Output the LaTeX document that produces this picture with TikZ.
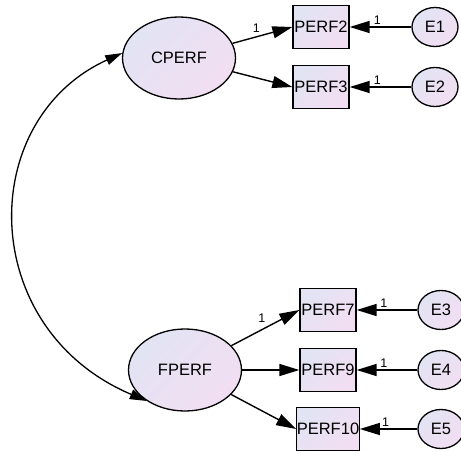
\documentclass[tikz,border=0pt]{standalone}
\usepackage{fontspec}
\setmainfont{Liberation Sans}
\usetikzlibrary{arrows.meta,shapes.geometric}
\definecolor{fillA}{RGB}{226,228,243}
\definecolor{fillB}{RGB}{242,222,242}
\begin{document}
\begin{tikzpicture}[x=1pt,y=-1pt,
  every node/.style={inner sep=0pt},
  tint/.style={top color=fillA, bottom color=fillB, shading angle=45},
  latent/.style={ellipse, draw, line width=1.3pt, tint, minimum width=113pt, minimum height=82pt, font=\fontsize{16.5}{18}\selectfont},
  observed/.style={rectangle, draw, line width=1.3pt, tint, minimum width=56pt, minimum height=43pt, font=\fontsize{16.5}{18}\selectfont},
  errvar/.style={ellipse, draw, line width=1.3pt, tint, minimum width=46pt, minimum height=39pt, font=\fontsize{16.5}{18}\selectfont},
  path/.style={line width=1.4pt, -{Triangle[length=20pt,width=12pt]}},
  wt/.style={font=\fontsize{12.5}{13}\selectfont, inner sep=2pt}]
\useasboundingbox (0,0) rectangle (461,452);
\clip (0,0) rectangle (461,452);

% latent factors
\node[latent] (cperf) at (179,58) {CPERF};
\node[latent] (fperf) at (185,370) {FPERF};

% indicators
\node[observed] (perf2)  at (321,27)  {PERF2};
\node[observed] (perf3)  at (321,87)  {PERF3};
\node[observed] (perf7)  at (328,310) {PERF7};
\node[observed] (perf9)  at (328,370) {PERF9};
\node[observed] (perf10) at (328,429) {PERF10};

% error terms
\node[errvar] (e1) at (435,27)  {E1};
\node[errvar] (e2) at (435,87)  {E2};
\node[errvar] (e3) at (441,310) {E3};
\node[errvar] (e4) at (441,370) {E4};
\node[errvar] (e5) at (441,429) {E5};

% loadings
\draw[path] (cperf) -- node[wt, above, pos=0.4, yshift=2pt] {1} (perf2.west);
\draw[path] (cperf) -- (perf3.west);
\draw[path] (fperf) -- node[wt, above, pos=0.45, yshift=4pt] {1} (perf7.west);
\draw[path] (fperf) -- (perf9.west);
\draw[path] (fperf) -- (perf10.west);

% error paths
\draw[path] (e1) -- node[wt, above, pos=0.55] {1} (perf2.east);
\draw[path] (e2) -- node[wt, above, pos=0.55] {1} (perf3.east);
\draw[path] (e3) -- node[wt, above, pos=0.55] {1} (perf7.east);
\draw[path] (e4) -- node[wt, above, pos=0.55] {1} (perf9.east);
\draw[path] (e5) -- node[wt, above, pos=0.55] {1} (perf10.east);

% covariance between factors
\draw[line width=1.3pt, {Triangle[length=17pt,width=10pt]}-{Triangle[length=17pt,width=10pt]}]
  (cperf.175) .. controls +(-147,67) and +(-170,-72) .. (fperf.219);
\end{tikzpicture}
\end{document}
